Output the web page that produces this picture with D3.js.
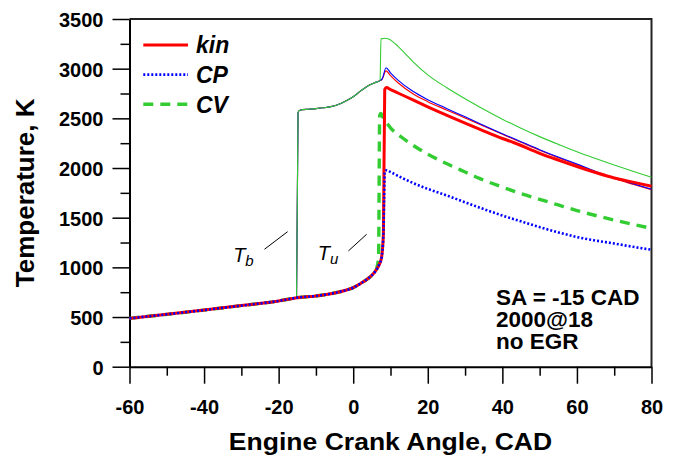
<!DOCTYPE html>
<html>
<head>
<meta charset="utf-8">
<script src="https://cdn.jsdelivr.net/npm/d3@7"></script>
<style>
  html, body { margin: 0; padding: 0; background: #fff; }
  svg { display: block; }
  text { font-family: "Liberation Sans", Arial, Helvetica, sans-serif; fill: #000; }
</style>
</head>
<body>
<svg id="chart" width="681" height="456"></svg>
<script>
// Crank angle ticks (CAD) and temperature ticks (K)
const xTicks = [-60, -40, -20, 0, 20, 40, 60, 80];
const xMinorTicks = [-50, -30, -10, 10, 30, 50, 70];
const yTicks = [0, 500, 1000, 1500, 2000, 2500, 3000, 3500];
const yMinorTicks = [250, 750, 1250, 1750, 2250, 2750, 3250];

// Compression stroke, common to every model before ignition
const compression = [[-60, 487], [-50, 527], [-40, 570], [-30, 615], [-20, 662], [-15, 695],
  [-10, 712], [-5, 742], [-2, 770], [0, 795], [2, 838], [4, 888], [5, 920], [6, 965]];

// Mean-gas temperature after ignition, per model
const kinMean = [[7, 1030], [7.6, 1100], [8.1, 1340], [8.45, 2790], [8.9, 2810], [10, 2790], [12, 2755],
  [16, 2686], [20, 2615], [25, 2533], [30, 2453], [34, 2390], [40, 2297], [43, 2257], [50, 2148],
  [55, 2080], [61, 2003], [65, 1955], [70, 1900], [75, 1858], [80, 1817]];
const cpMean = [[7, 1030], [7.6, 1100], [8.1, 1340], [8.3, 1700], [8.45, 1965], [9, 1978], [10, 1960],
  [13, 1902], [16, 1850], [20, 1790], [25, 1725], [30, 1655], [34, 1600], [40, 1522], [45, 1463],
  [50, 1405], [55, 1352], [60, 1305], [65, 1270], [70, 1240], [75, 1207], [80, 1177]];
const cvMean = [[6.3, 990], [6.8, 1100], [7.1, 2530], [7.4, 2550], [8, 2510], [10, 2405], [13, 2310],
  [16, 2230], [20, 2140], [25, 2045], [30, 1960], [34, 1893], [40, 1808], [45, 1743], [50, 1685],
  [55, 1628], [60, 1572], [65, 1522], [70, 1476], [75, 1433], [80, 1393]];

// Burned-zone temperature from spark onwards
const burnedStart = [[-15.2, 695], [-14.8, 2560], [-14.3, 2582], [-12, 2592], [-10, 2598], [-8, 2606],
  [-6, 2618], [-4, 2640], [-2, 2674], [0, 2718], [2, 2776], [4, 2828], [6, 2862], [7.2, 2880]];
const kinBurned = [[7.7, 2890], [8.8, 2978], [10, 2930], [12, 2858], [16, 2748], [20, 2668], [25, 2585],
  [30, 2503], [34, 2437], [40, 2339], [45, 2259], [50, 2179], [55, 2104], [60, 2034], [65, 1959],
  [70, 1894], [75, 1837], [80, 1781]];
const cpBurned = [[7.8, 2900], [8.8, 3010], [10, 2958], [12, 2885], [16, 2772], [20, 2688], [25, 2600],
  [30, 2515], [34, 2445], [40, 2345], [45, 2265], [50, 2185], [55, 2110], [60, 2040], [65, 1965],
  [70, 1900], [75, 1843], [80, 1787]];
const cvBurned = [[7.45, 3300], [8.5, 3306], [9.5, 3298], [10.5, 3275], [12, 3225], [14, 3150], [16, 3072],
  [20, 2938], [25, 2810], [30, 2697], [34, 2612], [40, 2492], [45, 2400], [50, 2316], [55, 2238],
  [60, 2163], [65, 2095], [70, 2030], [75, 1968], [80, 1907]];

const legendNames = ["kin", "CP", "CV"];
const noteLines = ["SA = -15 CAD", "2000@18", "no EGR"];
// Zone label anchors and their leader lines, in data units
const zoneLabels = [
  { main: "T", sub: "b", at: [-32.2, 1057], lead: [[-23.8, 1182], [-17.6, 1359]] },
  { main: "T", sub: "u", at: [-9.5, 1074], lead: [[-1.3, 1165], [3.6, 1333]] }
];

const COLORS = { red: "#ff0000", blue: "#0000ff", green: "#33cc33" };
const TITLE_STRETCH = 1.12; // wide lettering of the angle axis title

const svg = d3.select("#chart");
svg.append("rect").attr("width", 681).attr("height", 456).attr("fill", "#fff");

const x = d3.scaleLinear().domain([-60, 80]).range([129.5, 651.5]);
const y = d3.scaleLinear().domain([0, 3500]).range([366.7, 19]);

const line = d3.line().x(d => x(d[0])).y(d => y(d[1])).curve(d3.curveMonotoneX);

// Frame: top and right edges
svg.append("path")
  .attr("d", `M${x(-60)},${y(3500)}H${x(80)}V${y(0)}`)
  .attr("fill", "none").attr("stroke", "#222").attr("stroke-width", 2);

// Minor ticks
svg.append("g").attr("transform", `translate(0,${y(0)})`)
  .call(d3.axisBottom(x).tickValues(xMinorTicks).tickSize(9).tickFormat(""))
  .call(g => g.select(".domain").remove())
  .call(g => g.selectAll("line").attr("stroke", "#000").attr("stroke-width", 1.5));
svg.append("g").attr("transform", `translate(${x(-60)},0)`)
  .call(d3.axisLeft(y).tickValues(yMinorTicks).tickSize(9).tickFormat(""))
  .call(g => g.select(".domain").remove())
  .call(g => g.selectAll("line").attr("stroke", "#000").attr("stroke-width", 1.5));

// Major axes (plain hyphen for negative values)
const plain = d => String(d);
const xAxis = svg.append("g").attr("transform", `translate(0,${y(0)})`)
  .call(d3.axisBottom(x).tickValues(xTicks).tickSize(17).tickSizeOuter(0).tickFormat(plain));
xAxis.select(".domain").attr("stroke", "#000").attr("stroke-width", 2);
xAxis.selectAll("line").attr("stroke", "#000").attr("stroke-width", 1.5);
xAxis.selectAll("text")
  .attr("y", 47).attr("dy", null)
  .style("font-size", "20px").style("font-weight", "bold").attr("fill", "#000");

const yAxis = svg.append("g").attr("transform", `translate(${x(-60)},0)`)
  .call(d3.axisLeft(y).tickValues(yTicks).tickSize(17).tickSizeOuter(0).tickFormat(plain));
yAxis.select(".domain").attr("stroke", "#000").attr("stroke-width", 2);
yAxis.selectAll("line").attr("stroke", "#000").attr("stroke-width", 1.5);
yAxis.selectAll("text")
  .attr("x", -26).attr("dy", null).attr("y", 7.5)
  .style("font-size", "20px").style("font-weight", "bold").attr("fill", "#000");

// Axis titles
svg.append("text")
  .attr("transform", `translate(${(x(-60) + x(80)) / 2},449.5) scale(${TITLE_STRETCH},1)`)
  .attr("text-anchor", "middle")
  .style("font-size", "23.7px").style("font-weight", "bold")
  .text("Engine Crank Angle, CAD");
svg.append("text")
  .attr("transform", `translate(34,${(y(0) + y(3500)) / 2}) rotate(-90)`)
  .attr("text-anchor", "middle")
  .style("font-size", "26px").style("font-weight", "bold")
  .text("Temperature, K");

// Burned-zone curves (thin)
const thin = [
  { data: burnedStart.concat(kinBurned), color: COLORS.red },
  { data: burnedStart.concat(cpBurned), color: COLORS.blue },
  { data: burnedStart.concat(cvBurned), color: COLORS.green }
];
thin.forEach(s => {
  svg.append("path").attr("d", line(s.data))
    .attr("fill", "none").attr("stroke", s.color).attr("stroke-width", 1.1);
});

// Mean-gas curves (thick)
const styles = {
  kin: { color: COLORS.red, width: 3, dash: null },
  CP: { color: COLORS.blue, width: 2.6, dash: "2 2" },
  CV: { color: COLORS.green, width: 3.4, dash: "10 7" }
};
const thick = [
  { name: "CV", data: compression.concat(cvMean) },
  { name: "kin", data: compression.concat(kinMean) },
  { name: "CP", data: compression.concat(cpMean) }
];
thick.forEach(s => {
  const st = styles[s.name];
  svg.append("path").attr("d", line(s.data))
    .attr("fill", "none").attr("stroke", st.color).attr("stroke-width", st.width)
    .attr("stroke-dasharray", st.dash).attr("stroke-linejoin", "round");
});

// Legend
const legend = svg.append("g");
legendNames.forEach((name, i) => {
  const st = styles[name];
  const ly = 45 + i * 29.6;
  legend.append("line").attr("x1", 143.3).attr("x2", 188).attr("y1", ly).attr("y2", ly)
    .attr("stroke", st.color).attr("stroke-width", st.width).attr("stroke-dasharray", st.dash);
  legend.append("text").attr("x", 196).attr("y", ly + 8.3)
    .style("font-size", "23px").style("font-weight", "bold").style("font-style", "italic")
    .text(name);
});

// Zone labels with leader lines
zoneLabels.forEach(z => {
  const t = svg.append("text").attr("x", x(z.at[0])).attr("y", y(z.at[1]))
    .style("font-size", "20px").style("font-style", "italic");
  t.append("tspan").text(z.main);
  t.append("tspan").attr("dy", 4).style("font-size", "15px").text(z.sub);
  svg.append("line")
    .attr("x1", x(z.lead[0][0])).attr("y1", y(z.lead[0][1]))
    .attr("x2", x(z.lead[1][0])).attr("y2", y(z.lead[1][1]))
    .attr("stroke", "#000").attr("stroke-width", 1);
});

// Operating-point note
noteLines.forEach((s, i) => {
  svg.append("text")
    .attr("x", 496).attr("y", 304.5 + i * 22)
    .style("font-size", "22.5px").style("font-weight", "bold")
    .text(s);
});
</script>
</body>
</html>
